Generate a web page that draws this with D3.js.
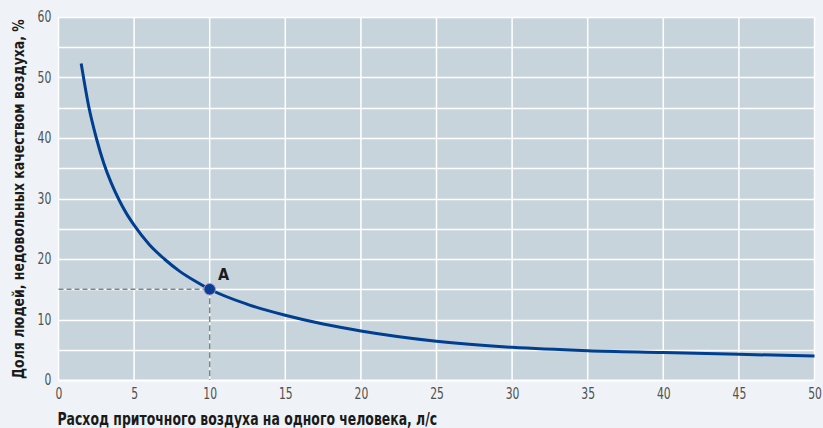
<!DOCTYPE html>
<html><head><meta charset="utf-8">
<script src="https://cdn.jsdelivr.net/npm/d3@7"></script>
<style>
html,body{margin:0;padding:0;background:#eff3f7;}
svg{display:block;}
</style></head>
<body>
<svg id="c" width="823" height="428"></svg>
<script>
const xVals = [1.5, 2, 2.5, 3, 3.5, 4, 4.5, 5, 6, 7, 8, 9, 10, 12.5, 15, 17.5, 20, 25, 30, 35, 40, 45, 50];
const yVals = [52.3, 45.2, 40.0, 35.8, 32.5, 29.8, 27.5, 25.6, 22.4, 20.0, 18.0, 16.4, 15.0, 12.5, 10.7, 9.25, 8.1, 6.4, 5.4, 4.85, 4.55, 4.25, 3.95];
const xTicks = [0, 5, 10, 15, 20, 25, 30, 35, 40, 45, 50];
const yTicks = [0, 10, 20, 30, 40, 50, 60];
const yGrid = [5, 10, 15, 20, 25, 30, 35, 40, 45, 50, 55, 60];
const pointA = {x: 10, y: 15, label: "A"};
const xTitle = "Расход приточного воздуха на одного человека, л/с";
const yTitle = "Доля людей, недовольных качеством воздуха, %";

const svg = d3.select("#c");
const L = 58.5, R = 814.5, T = 17, B = 380;
const x = d3.scaleLinear().domain([0, 50]).range([L, R]);
const y = d3.scaleLinear().domain([0, 60]).range([B, T]);
const tickFont = "'Liberation Sans Narrow','DejaVu Sans Condensed',sans-serif";
const titleFont = "'DejaVu Sans Condensed','Liberation Sans Narrow',sans-serif";

svg.append("rect").attr("x", L).attr("y", T).attr("width", R - L).attr("height", B - T).attr("fill", "#c8d4dc");

const g = svg.append("g");
g.selectAll(".hg").data(yGrid).join("line")
  .attr("x1", L).attr("x2", R).attr("y1", d => Math.round(y(d)) + 0.5).attr("y2", d => Math.round(y(d)) + 0.5)
  .attr("stroke", "#ffffff").attr("stroke-width", 1.5);
g.selectAll(".vg").data(xTicks.filter(d => d > 0)).join("line")
  .attr("y1", T).attr("y2", B).attr("x1", d => x(d)).attr("x2", d => x(d))
  .attr("stroke", "#ffffff").attr("stroke-width", 1.5);
g.append("line").attr("x1", L).attr("x2", R).attr("y1", B + 0.5).attr("y2", B + 0.5).attr("stroke", "#fff").attr("stroke-width", 2);
g.append("line").attr("x1", L).attr("x2", L).attr("y1", T).attr("y2", B).attr("stroke", "#fff").attr("stroke-width", 1.5);

// axes labels
const xAxis = d3.axisBottom(x).tickValues(xTicks).tickSize(0).tickPadding(0);
const xa = svg.append("g").attr("transform", `translate(0,${B})`).call(xAxis);
xa.select(".domain").remove();
xa.selectAll("text").attr("font-family", tickFont).attr("font-size", 15).attr("fill", "#505050")
  .attr("y", 19).attr("dy", null).attr("transform", "scale(0.8,1)");

const yAxis = d3.axisLeft(y).tickValues(yTicks).tickSize(0).tickPadding(0);
const ya = svg.append("g").attr("transform", `translate(${L},0)`).call(yAxis);
ya.select(".domain").remove();
ya.selectAll("text").attr("font-family", tickFont).attr("font-size", 15).attr("fill", "#505050")
  .attr("x", -9).attr("transform", "scale(0.8,1)");

// dashed guides
svg.append("line").attr("x1", L).attr("x2", x(pointA.x)).attr("y1", y(pointA.y)).attr("y2", y(pointA.y))
  .attr("stroke", "#7b858e").attr("stroke-width", 1.5).attr("stroke-dasharray", "5,3");
svg.append("line").attr("x1", x(pointA.x)).attr("x2", x(pointA.x)).attr("y1", y(pointA.y)).attr("y2", B)
  .attr("stroke", "#7b858e").attr("stroke-width", 1.5).attr("stroke-dasharray", "6,3");

// curve
const line = d3.line().x((d, i) => x(xVals[i])).y((d, i) => y(yVals[i])).curve(d3.curveMonotoneX);
svg.append("path").attr("d", line(xVals)).attr("fill", "none").attr("stroke", "#003e8f").attr("stroke-width", 3);

// point A
svg.append("circle").attr("cx", x(pointA.x)).attr("cy", y(pointA.y)).attr("r", 5.8)
  .attr("fill", "#0a3e93").attr("stroke", "#a99bd0").attr("stroke-width", 1);
svg.append("text").attr("x", 218).attr("y", 280).text(pointA.label)
  .attr("font-family", titleFont).attr("font-weight", "bold")
  .attr("font-size", 16).attr("fill", "#1a1a1a");

// titles (condensed via horizontal scaling to the reference's width)
const xt = svg.append("text").text(xTitle)
  .attr("font-family", titleFont).attr("font-weight", "bold")
  .attr("font-size", 17).attr("fill", "#1a1a1a");
const xtLen = xt.node().getComputedTextLength();
xt.attr("transform", `translate(${L - 1},425) scale(${380 / xtLen},1)`);

const yt = svg.append("text").text(yTitle)
  .attr("font-family", titleFont).attr("font-weight", "bold")
  .attr("font-size", 16).attr("fill", "#1a1a1a");
const ytLen = yt.node().getComputedTextLength();
yt.attr("transform", `translate(24,${B - 1}) rotate(-90) scale(${360 / ytLen},1)`);
</script>
</body></html>
